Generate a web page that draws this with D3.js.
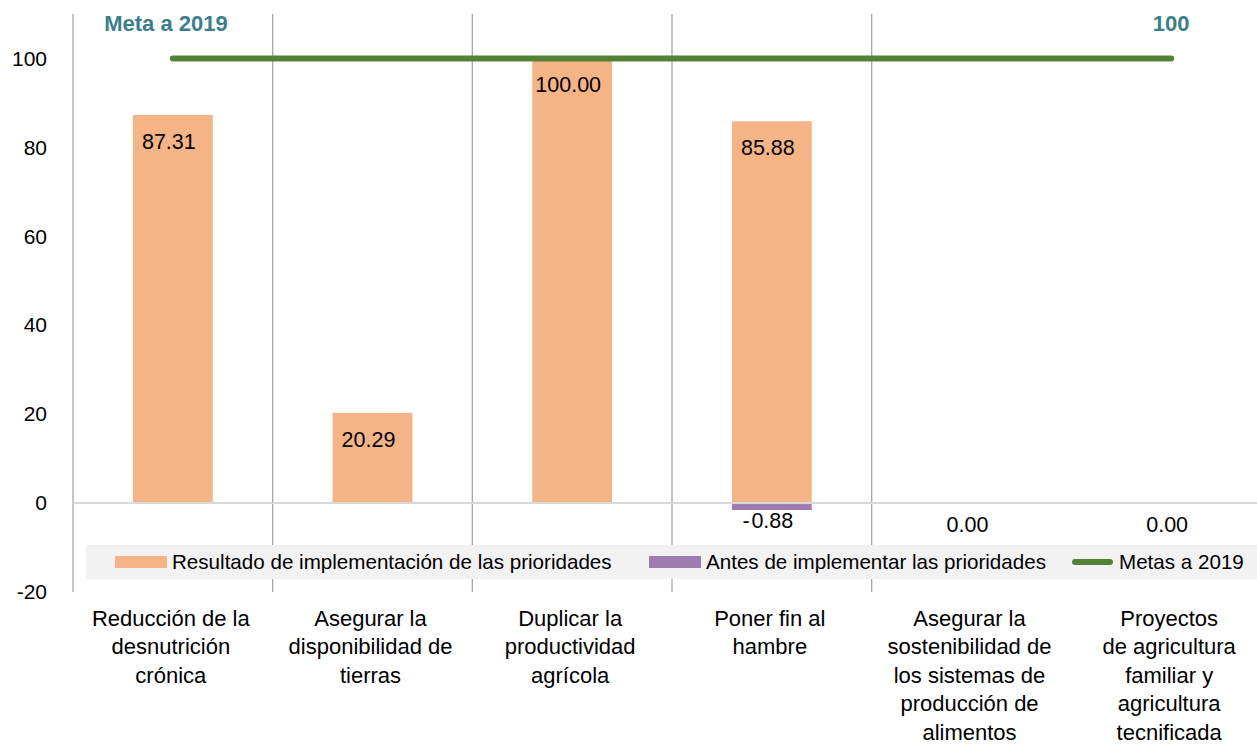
<!DOCTYPE html>
<html>
<head>
<meta charset="utf-8">
<script src="https://cdn.jsdelivr.net/npm/d3@7"></script>
<style>
  body { margin: 0; background: #fff; }
  svg { display: block; font-family: "Liberation Sans", Arial, sans-serif; }
</style>
</head>
<body>
<svg id="chart"></svg>
<script>
const categories = [
    ["Reducción de la", "desnutrición", "crónica"],
    ["Asegurar la", "disponibilidad de", "tierras"],
    ["Duplicar la", "productividad", "agrícola"],
    ["Poner fin al", "hambre"],
    ["Asegurar la", "sostenibilidad de", "los sistemas de", "producción de", "alimentos"],
    ["Proyectos", "de agricultura", "familiar y", "agricultura", "tecnificada"]
];
const resultado = [87.31, 20.29, 100.00, 85.88, 0.00, 0.00];
const antes = [null, null, null, -0.88, null, null];
const metas = [100, 100, 100, 100, 100, 100];
const yTicks = [-20, 0, 20, 40, 60, 80, 100];
const legendNames = ["Resultado de implementación de las prioridades", "Antes de implementar las prioridades", "Metas a 2019"];

const width = 1257, height = 745;
const colors = { resultado: "#f4b485", antes: "#9e7bb0", meta: "#548235", teal: "#3b7f8d" };

const svg = d3.select("#chart").attr("width", width).attr("height", height);

const x = d3.scaleBand()
    .domain(d3.range(categories.length))
    .range([73, 1271])
    .padding(0);
const y = d3.scaleLinear()
    .domain([-20, 110])
    .range([592, 14]);

const barW = x.bandwidth() * 0.4;
const cx = i => x(i) + x.bandwidth() / 2;

// vertical separators (the last column has none)
svg.selectAll(".sep")
    .data(d3.range(categories.length - 1))
    .enter()
    .append("line")
    .attr("x1", d => x(d)).attr("x2", d => x(d))
    .attr("y1", y(110)).attr("y2", y(-20))
    .style("stroke", "#a6a6a6")
    .style("stroke-width", 1.3);

// y axis labels
const yAxis = d3.axisLeft(y).tickValues(yTicks).tickSize(0).tickPadding(0)
    .tickFormat(d => String(d));
const gy = svg.append("g").attr("transform", "translate(47,0)").call(yAxis);
gy.select(".domain").remove();
gy.selectAll("text")
    .style("font-size", "21px")
    .style("font-family", "Liberation Sans, Arial, sans-serif")
    .attr("fill", "#000");

// bars
svg.selectAll(".bar")
    .data(resultado)
    .enter()
    .append("rect")
    .attr("x", (d, i) => cx(i) - barW / 2)
    .attr("y", d => y(Math.max(d, 0)))
    .attr("width", barW)
    .attr("height", d => Math.abs(y(d) - y(0)))
    .style("fill", colors.resultado);

// zero line
svg.append("line")
    .attr("x1", x(0)).attr("x2", width)
    .attr("y1", y(0)).attr("y2", y(0))
    .style("stroke", "#d9d9d9")
    .style("stroke-width", 2);

svg.selectAll(".antes")
    .data(antes.map((v, i) => ({ v, i })).filter(d => d.v !== null))
    .enter()
    .append("rect")
    .attr("x", d => cx(d.i) - barW / 2)
    .attr("y", y(0) + 1)
    .attr("width", barW)
    .attr("height", d => y(d.v) - y(0) + 2)
    .style("fill", colors.antes);

// value labels
svg.selectAll(".lbl")
    .data(resultado)
    .enter()
    .append("text")
    .attr("x", (d, i) => cx(i) - 4)
    .attr("y", d => d > 0 ? y(d) + 34 : y(0) + 29)
    .attr("text-anchor", "middle")
    .style("font-size", "21.5px")
    .text(d => d.toFixed(2));

svg.selectAll(".lblAntes")
    .data(antes.map((v, i) => ({ v, i })).filter(d => d.v !== null))
    .enter()
    .append("text")
    .attr("x", d => cx(d.i) - 4)
    .attr("y", y(0) + 25)
    .attr("text-anchor", "middle")
    .style("font-size", "21.5px")
    .text(d => "-\u200A" + Math.abs(d.v).toFixed(2));

// meta line
const line = d3.line().x((d, i) => cx(i)).y(d => y(d));
svg.append("path")
    .datum(metas)
    .attr("d", line)
    .style("fill", "none")
    .style("stroke", colors.meta)
    .style("stroke-width", 6)
    .style("stroke-linecap", "round");

svg.append("text")
    .attr("x", 166).attr("y", 31)
    .attr("text-anchor", "middle")
    .style("font-size", "22px").style("font-weight", "bold")
    .style("fill", colors.teal)
    .text("Meta a 2019");
svg.append("text")
    .attr("x", cx(5)).attr("y", 31)
    .attr("text-anchor", "middle")
    .style("font-size", "22px").style("font-weight", "bold")
    .style("fill", colors.teal)
    .text(metas[5]);

// legend
const lg = svg.append("g");
lg.append("rect")
    .attr("x", 86).attr("y", 545)
    .attr("width", width - 86).attr("height", 34)
    .style("fill", "#f2f2f2");
lg.append("rect").attr("x", 115).attr("y", 556).attr("width", 52).attr("height", 12).style("fill", colors.resultado);
lg.append("text").attr("x", 172).attr("y", 569).style("font-size", "20.6px").text(legendNames[0]);
lg.append("rect").attr("x", 649).attr("y", 556).attr("width", 52).attr("height", 12).style("fill", colors.antes);
lg.append("text").attr("x", 706).attr("y", 569).style("font-size", "20.6px").text(legendNames[1]);
lg.append("line").attr("x1", 1075).attr("x2", 1110).attr("y1", 562).attr("y2", 562)
    .style("stroke", colors.meta).style("stroke-width", 6).style("stroke-linecap", "round");
lg.append("text").attr("x", 1119).attr("y", 569).style("font-size", "20.6px").text(legendNames[2]);

// category labels
const cat = svg.selectAll(".cat")
    .data(categories)
    .enter()
    .append("text")
    .attr("text-anchor", "middle")
    .style("font-size", "22px");
cat.selectAll("tspan")
    .data((d, i) => d.map(t => ({ t, i })))
    .enter()
    .append("tspan")
    .attr("x", d => cx(d.i) - 2)
    .attr("y", (d, j) => 626 + j * 28.4)
    .text(d => d.t);
</script>
</body>
</html>
